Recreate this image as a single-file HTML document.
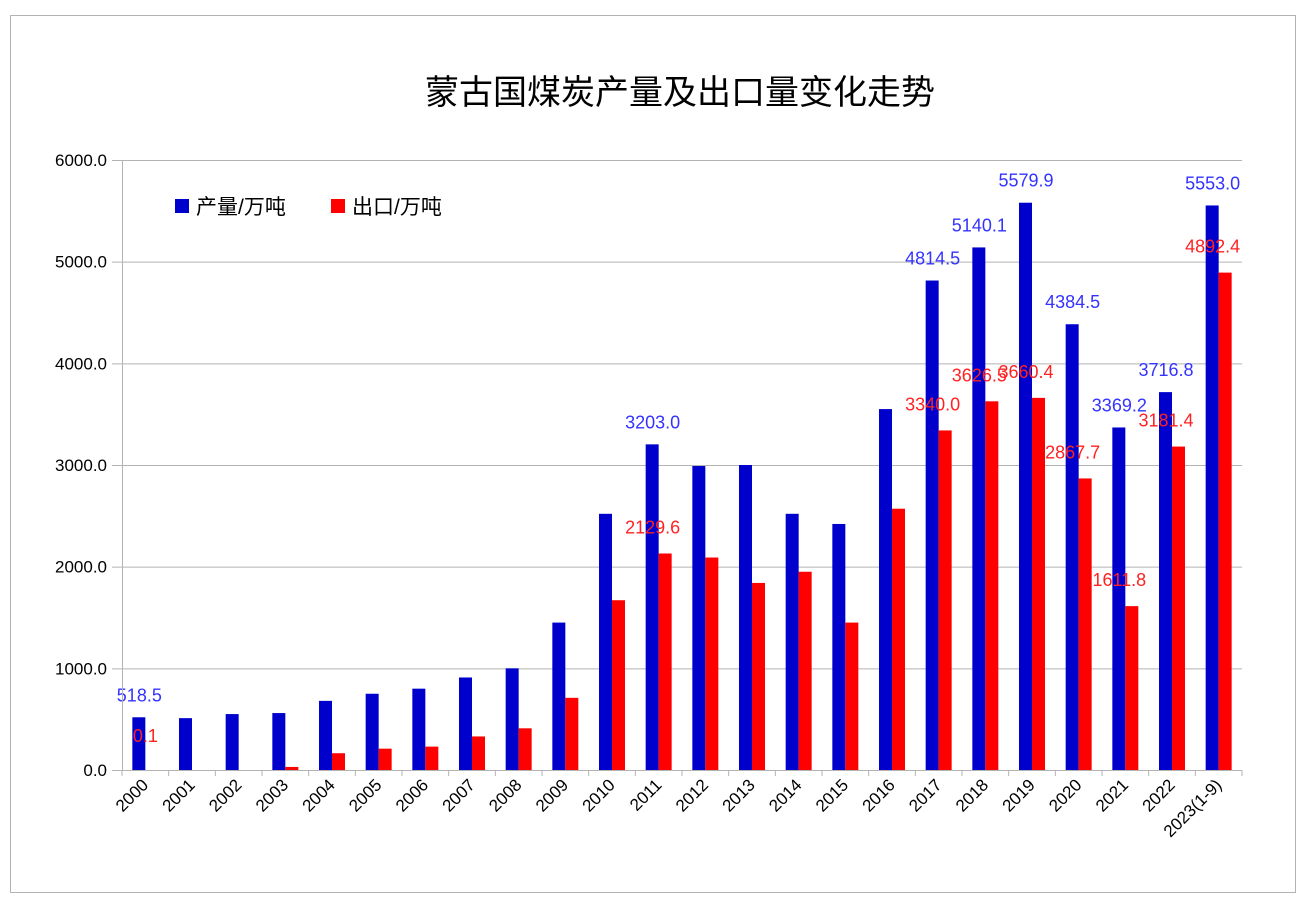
<!DOCTYPE html>
<html><head><meta charset="utf-8">
<style>
html,body{margin:0;padding:0;background:#fff;}
svg{display:block;font-family:"Liberation Sans","Noto Sans CJK SC",sans-serif;}
</style></head>
<body>
<svg id="chart" width="1302" height="908" viewBox="0 0 1302 908">
<rect x="10.5" y="15.5" width="1285" height="877" fill="#fff" stroke="#b3b3b3"/>
<text x="680" y="104" text-anchor="middle" font-size="34" fill="#000">蒙古国煤炭产量及出口量变化走势</text>
<g>
<rect x="175" y="199" width="14" height="14" fill="#0000cc"/>
<text x="196" y="214" font-size="21" fill="#000">产量/万吨</text>
<rect x="331" y="199" width="14" height="14" fill="#ff0000"/>
<text x="352" y="214" font-size="21" fill="#000">出口/万吨</text>
</g>
<g id="grid"></g><g id="bars"></g><g id="labels"></g><g id="axes"></g>
</svg>
<script>
const categories=["2000","2001","2002","2003","2004","2005","2006","2007","2008","2009","2010","2011","2012","2013","2014","2015","2016","2017","2018","2019","2020","2021","2022","2023(1-9)"];
const production=[518.5,510,550,560,680,750,800,910,1000,1450,2520,3203.0,2990,3000,2520,2420,3550,4814.5,5140.1,5579.9,4384.5,3369.2,3716.8,5553.0];
const exportsV=[0.1,0,0,30,165,210,230,330,410,710,1670,2129.6,2090,1840,1950,1450,2570,3340.0,3626.5,3660.4,2867.7,1611.8,3181.4,4892.4];
const labeledIdx=[0,11,17,18,19,20,21,22,23];
const yTicks=[0,1000,2000,3000,4000,5000,6000];
const X0=122,X1=1242,Y0=770,Y1=160,YMAX=6000;
const NS="http://www.w3.org/2000/svg";
const bw=(X1-X0)/categories.length;
function y(v){return Y0-(v/YMAX)*(Y0-Y1);}
function xc(i){return X0+bw*i+bw/2;}
function mk(t,a,p){const e=document.createElementNS(NS,t);for(const k in a)e.setAttribute(k,a[k]);p.appendChild(e);return e;}
const grid=document.getElementById('grid'),bars=document.getElementById('bars'),labels=document.getElementById('labels'),axes=document.getElementById('axes');
yTicks.forEach(v=>{
 const l=mk('line',{x1:112,x2:X1,y1:y(v)+0.5,y2:y(v)+0.5,stroke:'#b3b3b3','stroke-width':1},grid);
 
 
 const t=mk('text',{x:107,y:y(v)+6,'text-anchor':'end','font-size':17,fill:'#000'},axes);
 t.textContent=v.toFixed(1);
 
 
});
const ya=mk('line',{x1:X0+0.5,x2:X0+0.5,y1:Y1,y2:Y0,stroke:'#b3b3b3'},axes);


for(let i=0;i<=categories.length;i++){
 const tk=mk('line',{x1:X0+bw*i,x2:X0+bw*i,y1:Y0,y2:Y0+6,stroke:'#b3b3b3'},axes);
 
 
}
categories.forEach((c,i)=>{
 const cx=xc(i);
 const pb=mk('rect',{x:cx-13,y:y(production[i]),width:13,height:Y0-y(production[i]),fill:'#0000cc'},bars);
 
 
 const eb=mk('rect',{x:cx,y:y(exportsV[i]),width:13,height:Y0-y(exportsV[i]),fill:'#ff0000'},bars);
 
 
 const t=mk('text',{x:cx+4,y:786,'text-anchor':'end','font-size':17,fill:'#000',transform:`rotate(-45 ${cx+4} 786)`},axes);
 t.textContent=c;
 
 
});
labeledIdx.forEach(i=>{
 const cx=xc(i);
 const a=mk('text',{x:cx-6,y:y(production[i])-16,'text-anchor':'middle','font-size':18,fill:'#3333ff'},labels);
 a.textContent=production[i].toFixed(1);
 
 
 const b=mk('text',{x:cx+i===0?cx:cx,y:y(exportsV[i])-20,'text-anchor':'middle','font-size':18,fill:'#ff2222'},labels);
 b.setAttribute('x',cx-(i===0?0:6));
 b.setAttribute('y',i===0?742:y(exportsV[i])-20);
 b.textContent=exportsV[i].toFixed(1);
 
 
});
</script>
</body></html>
